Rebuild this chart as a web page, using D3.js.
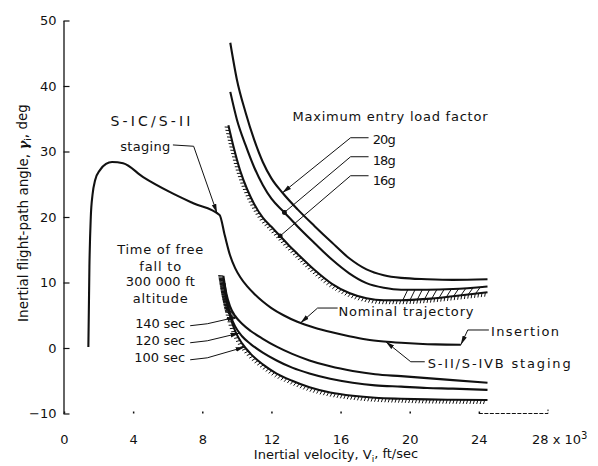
<!DOCTYPE html>
<html><head><meta charset="utf-8">
<script src="https://cdn.jsdelivr.net/npm/d3@7"></script>
<style>
body{margin:0;background:#fff}
text{font-family:"DejaVu Sans","Liberation Sans",sans-serif;fill:#111}
</style>
</head><body>
<svg id="chart" width="598" height="466"></svg>
<script>
// ---------- data ----------
const xTicks = [0, 4, 8, 12, 16, 20, 24];
const yTicks = [-10, 0, 10, 20, 30, 40, 50];
const xLastLabel = "28 x 10";
const xLastValue = 28;

// Nominal trajectory (velocity kft/s, flight-path angle deg)
const nominalV = [1.41, 1.47, 1.55, 1.65, 1.80, 2.09, 2.43, 2.78, 3.42, 4.58, 6.14, 7.48, 9.0, 9.3, 9.6, 9.9, 10.2, 10.6, 11.0, 11.5, 12.0, 12.7, 13.5, 14.5, 15.5, 16.5, 17.5, 18.5, 19.5, 20.5, 21.5, 22.96];
const nominalG = [0.15, 12.4, 20.0, 23.4, 25.6, 27.2, 28.1, 28.4, 28.2, 26.1, 23.8, 22.1, 20.3, 17.2, 14.2, 12.2, 10.8, 9.4, 8.3, 7.1, 6.1, 5.0, 4.0, 3.1, 2.4, 1.8, 1.3, 1.0, 0.8, 0.65, 0.55, 0.5];

// Maximum entry load factor boundaries
const g20V = [9.62, 10.0, 10.5, 11.0, 11.5, 12.0, 12.64, 13.5, 14.5, 15.5, 16.5, 17.5, 18.5, 19.5, 21.0, 22.5, 24.5];
const g20G = [46.6, 41.0, 36.0, 31.8, 28.4, 25.9, 23.7, 21.2, 18.6, 16.1, 13.7, 12.0, 11.1, 10.7, 10.5, 10.4, 10.5];
const g18V = [9.62, 10.0, 10.5, 11.0, 11.5, 12.0, 12.75, 13.5, 14.5, 15.5, 16.5, 17.5, 18.5, 19.5, 21.0, 22.5, 24.5];
const g18G = [39.1, 34.9, 31.0, 27.6, 24.9, 22.8, 20.7, 18.6, 16.0, 13.5, 11.4, 9.9, 9.2, 8.9, 8.9, 9.0, 9.4];
const g16V = [9.51, 9.8, 10.2, 10.6, 11.0, 11.5, 12.0, 12.5, 13.0, 13.5, 14.5, 15.5, 16.5, 17.5, 18.5, 19.5, 21.0, 22.5, 24.5];
const g16G = [34.0, 30.8, 27.0, 24.2, 22.0, 19.9, 18.5, 17.1, 15.7, 14.4, 11.9, 9.8, 8.4, 7.6, 7.3, 7.3, 7.5, 7.9, 8.5];

// Time of free fall to 300 000 ft altitude
const ff140V = [9.22, 9.4, 9.6, 9.9, 10.3, 10.8, 11.5, 12.3, 13.2, 14.2, 15.4, 16.7, 18.0, 19.5, 21.0, 22.5, 24.5];
const ff140G = [11.0, 8.2, 6.4, 4.9, 3.7, 2.6, 1.4, 0.2, -0.9, -1.9, -2.8, -3.5, -4.0, -4.3, -4.6, -4.9, -5.3];
const ff120V = [9.22, 9.4, 9.6, 9.9, 10.3, 10.8, 11.5, 12.3, 13.2, 14.2, 15.4, 16.7, 18.0, 19.5, 21.0, 22.5, 24.5];
const ff120G = [10.5, 7.4, 5.2, 3.3, 1.8, 0.6, -0.7, -1.9, -3.0, -3.9, -4.7, -5.3, -5.7, -5.9, -6.1, -6.2, -6.4];
const ff100V = [9.28, 9.45, 9.65, 9.95, 10.3, 10.8, 11.5, 12.3, 13.2, 14.2, 15.4, 16.7, 18.0, 19.5, 21.0, 22.5, 24.5];
const ff100G = [9.9, 6.9, 4.5, 2.3, 0.7, -0.9, -2.5, -3.9, -5.0, -6.0, -6.8, -7.3, -7.6, -7.75, -7.85, -7.9, -7.95];

// Text labels (positions in data units)
const labelTexts = ["S-IC/S-II", "staging", "Maximum entry load factor", "20g", "18g", "16g",
  "Nominal trajectory", "Insertion", "S-II/S-IVB staging",
  "Time of free", "fall to", "300 000 ft", "altitude", "140 sec", "120 sec", "100 sec"];
const labelV = [5.0, 4.7, 13.22, 17.86, 17.86, 17.86, 15.88, 24.7, 21.04, 5.57, 5.57, 5.57, 5.57, 7.01, 7.01, 7.01];
const labelG = [34.7, 30.8, 35.3, 31.8, 28.7, 25.6, 5.6, 2.6, -2.3, 15.0, 12.5, 10.1, 7.5, 3.7, 1.1, -1.5];

// Leader lines: bend points (data units) and target on a curve
const leaderV = [[6.3, 7.5], [17.62, 16.58], [17.62, 16.58], [17.62, 16.58], [15.83, 14.67], [24.58, 23.36], [20.87, 20.06], [7.3, 8.29], [7.3, 8.29], [7.3, 8.29]];
const leaderG = [[31.0, 30.8], [32.1, 32.1], [29.2, 29.2], [26.3, 26.3], [6.1, 6.1], [2.75, 2.75], [-2.1, -2.1], [3.4, 3.7], [0.8, 1.1], [-1.8, -1.5]];
const leaderCurve = ["nominal", "g20", "g18", "g16", "nominal", "nominal", "nominal", "ff140", "ff120", "ff100"];
const leaderTipV = [8.85, 12.64, 12.75, 12.5, 13.68, 22.96, 18.61, 9.95, 10.15, 10.45];

// ---------- styles ----------
const labelAnchor = ["middle", "middle", "start", "start", "start", "start", "start", "start", "start",
  "middle", "middle", "middle", "middle", "end", "end", "end"];
const labelWidth = [80, 50, 195, 23, 23, 23, 135, 68, 143, 86, 42, 69, 55, 50, 50, 51];
const labelSize = [14, 13, 13, 13, 13, 13, 13, 13, 13, 13, 13, 13, 13, 13, 13, 13];
const leaderEnd = ["arrow", "arrow", "dot", "dot", "arrow", "arrow", "arrow", "arrow", "arrow", "arrow"];

// ---------- drawing ----------
const svg = d3.select("#chart");
const x = d3.scaleLinear().domain([0, 28]).range([64, 548]);
const y = d3.scaleLinear().domain([-10, 50]).range([413.5, 20.5]);
const ink = "#111";
const tickFont = '"DejaVu Sans Condensed","DejaVu Sans",sans-serif';

const defs = svg.append("defs");
defs.append("marker").attr("id", "arrow").attr("viewBox", "0 0 9 6")
  .attr("refX", 9).attr("refY", 3).attr("markerWidth", 9).attr("markerHeight", 6)
  .attr("markerUnits", "userSpaceOnUse").attr("orient", "auto")
  .append("path").attr("d", "M0,0.7 L9,3 L0,5.3 Z").attr("fill", ink);
defs.append("marker").attr("id", "dot").attr("viewBox", "0 0 6 6")
  .attr("refX", 3).attr("refY", 3).attr("markerWidth", 5).attr("markerHeight", 5)
  .attr("markerUnits", "userSpaceOnUse")
  .append("circle").attr("cx", 3).attr("cy", 3).attr("r", 3).attr("fill", ink);

// Y axis (ticks pointing inward)
const yAxis = d3.axisLeft(y).tickValues(yTicks).tickSizeInner(-6).tickSizeOuter(0).tickPadding(7);
const gy = svg.append("g").attr("transform", "translate(63.5,0)").call(yAxis);
gy.select(".domain").attr("stroke", ink).attr("stroke-width", 1.3);
gy.selectAll(".tick line").attr("stroke", ink).attr("stroke-width", 1.2);
gy.selectAll(".tick text").attr("font-size", 13).attr("fill", ink).attr("font-family", tickFont);

// X axis (dot ticks only, no baseline)
const xAxis = d3.axisBottom(x).tickValues(xTicks).tickSizeInner(-2).tickSizeOuter(0).tickPadding(21);
const gx = svg.append("g").attr("transform", `translate(0,${y(-10)})`).call(xAxis);
gx.select(".domain").remove();
gx.selectAll(".tick line").attr("stroke", ink).attr("stroke-width", 1.5);
gx.selectAll(".tick text").attr("font-size", 13).attr("fill", ink).attr("font-family", tickFont);
svg.append("path")
  .attr("d", `M${x(24)},${y(-10)} H${x(xLastValue)} V${y(-10) - 4}`)
  .attr("fill", "none").attr("stroke", ink).attr("stroke-width", 1).attr("stroke-dasharray", "4,1.5");
const lastLab = svg.append("text").attr("x", x(xLastValue) - 16).attr("y", y(-10) + 21)
  .attr("dy", "0.71em").attr("font-size", 13).attr("font-family", tickFont).text(xLastLabel);
lastLab.append("tspan").attr("dy", "-0.5em").attr("font-size", 10).text("3");

// Axis titles
const xt = svg.append("text").attr("x", 336).attr("y", 459).attr("text-anchor", "middle").attr("font-size", 13)
  .attr("font-family", tickFont).text("Inertial velocity, V");
xt.append("tspan").attr("font-size", 9).attr("dy", "0.3em").text("i");
xt.append("tspan").attr("dy", "-0.3em").text(", ft/sec");

const yt = svg.append("text").attr("transform", "translate(28,213) rotate(-90)").attr("text-anchor", "middle").attr("font-size", 13.5)
  .attr("font-family", tickFont).text("Inertial flight-path angle, ");
yt.append("tspan").attr("font-family", '"DejaVu Serif",serif').attr("font-style", "italic").attr("font-weight", "bold").text("γ");
yt.append("tspan").attr("font-size", 9).attr("dy", "0.3em").text("i");
yt.append("tspan").attr("dy", "-0.3em").text(", deg");

// Curves
const line = d3.line().x(d => x(d[0])).y(d => y(d[1])).curve(d3.curveMonotoneX);
const curves = {
  nominal: d3.zip(nominalV, nominalG),
  g20: d3.zip(g20V, g20G), g18: d3.zip(g18V, g18G), g16: d3.zip(g16V, g16G),
  ff140: d3.zip(ff140V, ff140G), ff120: d3.zip(ff120V, ff120G), ff100: d3.zip(ff100V, ff100G)
};
const nodes = {};
const gc = svg.append("g");
for (const [k, pts] of Object.entries(curves)) {
  nodes[k] = gc.append("path").attr("d", line(pts)).attr("fill", "none")
    .attr("stroke", ink).attr("stroke-width", 2.1).attr("stroke-linejoin", "round").node();
}

function pointAtX(node, px) {
  let lo = 0, hi = node.getTotalLength();
  for (let i = 0; i < 32; i++) {
    const mid = (lo + hi) / 2;
    if (node.getPointAtLength(mid).x < px) lo = mid; else hi = mid;
  }
  return node.getPointAtLength((lo + hi) / 2);
}

// hatch ticks on the lower-left side of a curve
const gh = svg.append("g").attr("stroke", ink).attr("stroke-width", 1);
function hatch(node, step, len, from, to) {
  const L = node.getTotalLength();
  to = Math.min(to == null ? L : to, L);
  for (let s = from; s <= to; s += step) {
    const p = node.getPointAtLength(s), q = node.getPointAtLength(Math.min(L, s + 0.6));
    const p0 = node.getPointAtLength(Math.max(0, s - 0.6));
    let dx = q.x - p0.x, dy = q.y - p0.y; const m = Math.hypot(dx, dy) || 1; dx /= m; dy /= m;
    const nx = -dy, ny = dx;
    gh.append("line").attr("x1", p.x).attr("y1", p.y)
      .attr("x2", p.x + nx * len - dx * 1.2).attr("y2", p.y + ny * len - dy * 1.2);
  }
}
hatch(nodes.g16, 3.4, 4, 2, null);
hatch(nodes.ff100, 3.4, 4, 2, null);
hatch(nodes.ff140, 1.3, 5, 0, 45);
hatch(nodes.ff120, 1.6, 4, 0, 35);

// diagonal hatching between 16g and 18g near the end
for (let v = 19.6; v <= 24.0; v += 0.42) {
  const a = pointAtX(nodes.g16, x(v)), b = pointAtX(nodes.g18, x(v) + 5);
  gh.append("line").attr("x1", a.x).attr("y1", a.y).attr("x2", b.x).attr("y2", b.y);
}

// Leader lines
const leaderLine = d3.line();
leaderV.forEach((vs, i) => {
  const pts = vs.map((v, j) => [x(v), y(leaderG[i][j])]);
  const tip = pointAtX(nodes[leaderCurve[i]], x(leaderTipV[i]));
  pts.push([tip.x, tip.y]);
  svg.append("path").attr("d", leaderLine(pts)).attr("fill", "none").attr("stroke", ink)
    .attr("stroke-width", 1).attr("marker-end", `url(#${leaderEnd[i]})`);
});

// Labels
labelTexts.forEach((t, i) => {
  svg.append("text").attr("x", x(labelV[i])).attr("y", y(labelG[i])).attr("dy", "0.35em")
    .attr("text-anchor", labelAnchor[i]).attr("font-size", labelSize[i])
    .attr("textLength", labelWidth[i]).attr("lengthAdjust", "spacing").text(t);
});
</script>
</body></html>
